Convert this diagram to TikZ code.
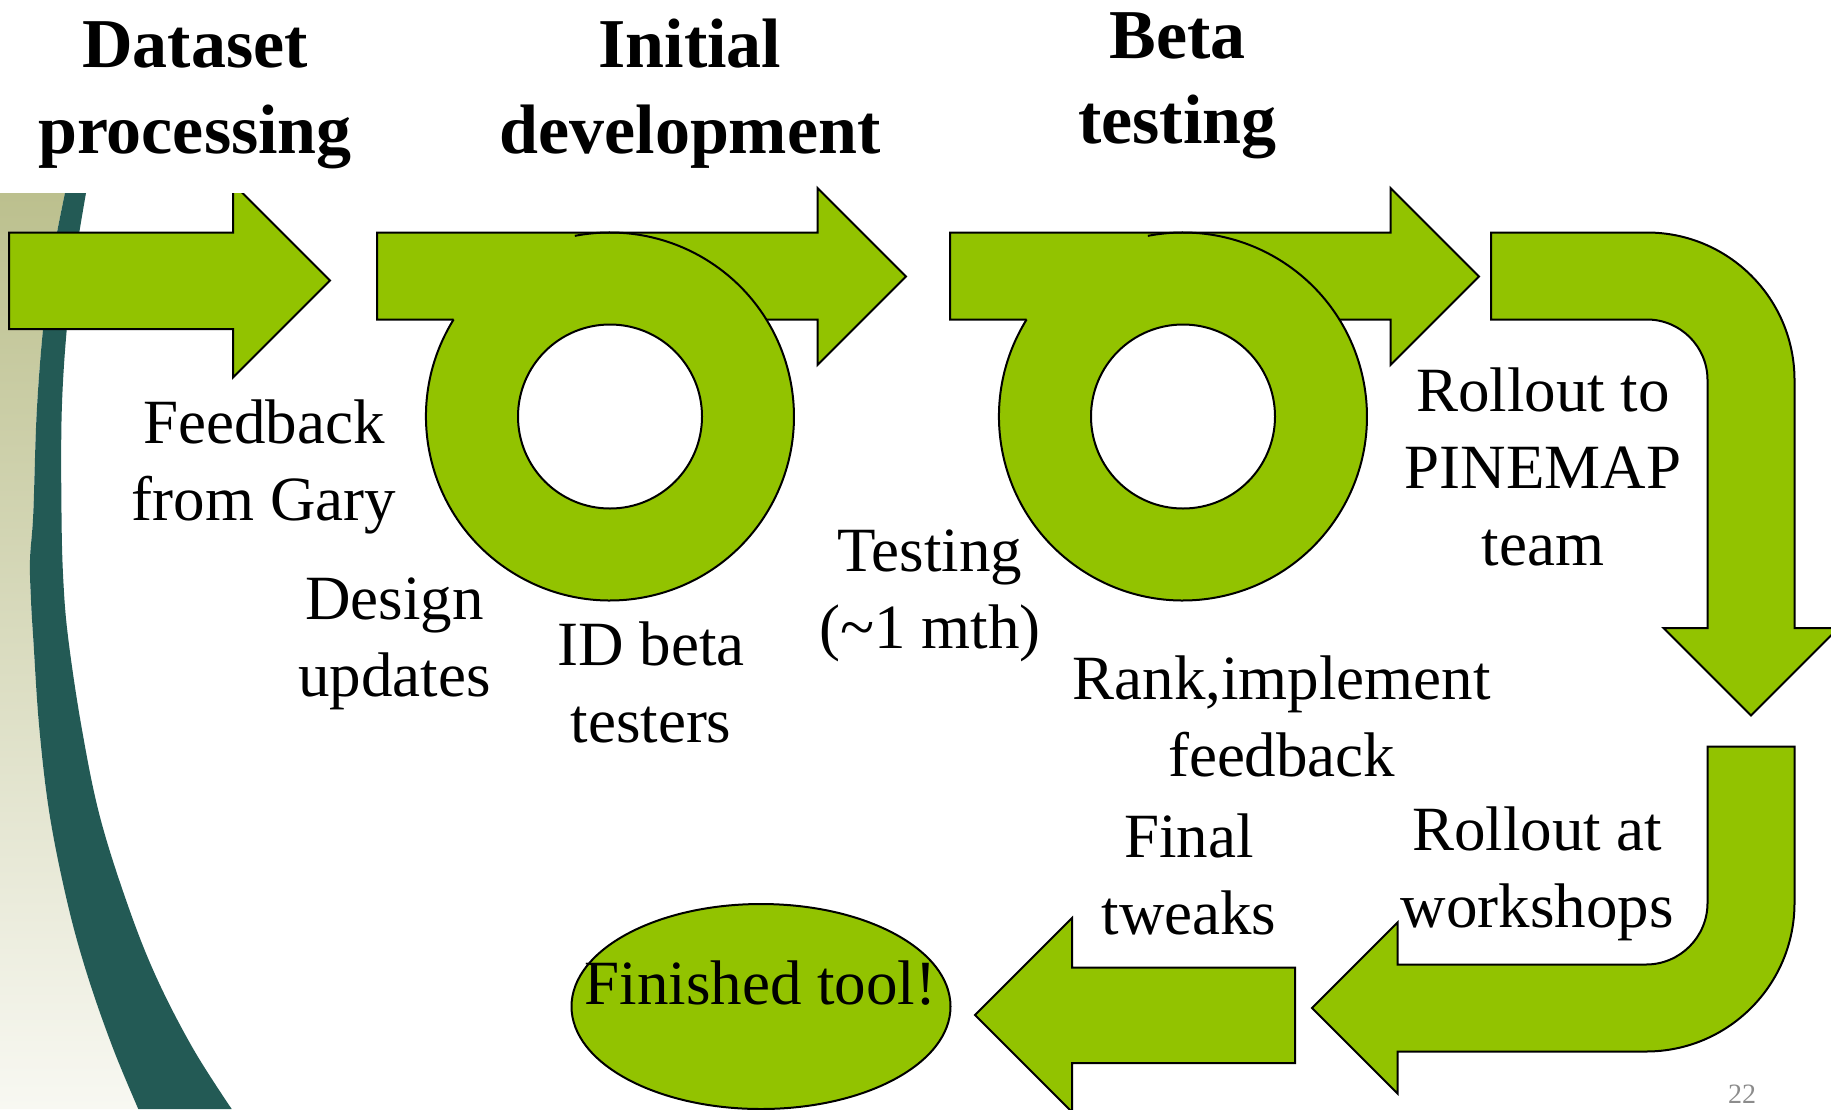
\documentclass[tikz,border=0pt]{standalone}
\usepackage{fontspec}
\setmainfont{Liberation Serif}
\definecolor{leaf}{HTML}{92C300}
\definecolor{bandteal}{HTML}{235A55}
\definecolor{oliveTop}{HTML}{BCC08E}
\definecolor{oliveBottom}{HTML}{F8F8F2}
\definecolor{pagegray}{HTML}{8C8C8C}
\tikzset{
  blockfill/.style={fill=leaf},
  outline/.style={draw=black, line width=1pt, line join=miter},
  % multi-line nodes: the base anchor sits on the last line
  lbl/.style={font=\fontsize{31.5}{38.5}\selectfont, align=center, anchor=base, inner sep=0pt},
  head/.style={font=\bfseries\fontsize{35}{43}\selectfont, align=center, anchor=base, inner sep=0pt},
}
% one arrow with a ring loop underneath it
\newcommand{\loopedarrow}{%
  \fill[blockfill] (377,232.5) -- (817.5,232.5) -- (817.5,188) -- (906,276.5)
    -- (817.5,365) -- (817.5,319.5) -- (377,319.5) -- cycle;
  \fill[blockfill, even odd rule] (610,416.5) circle[radius=184] (610,416.5) circle[radius=92];
  \draw[outline] (453.6,319.5) -- (377,319.5) -- (377,232.5) -- (817.5,232.5)
    -- (817.5,188) -- (906,276.5) -- (817.5,365) -- (817.5,319.5) -- (766.4,319.5);
  \draw[outline] (453.6,319.5) arc[start angle=211.81, end angle=-101, radius=184];
  \draw[outline] (610,416.5) circle[radius=92];
}
\begin{document}
\begin{tikzpicture}[x=0.5pt, y=-0.5pt]
\useasboundingbox (0,0) rectangle (1831,1109);
\clip (0,0) rectangle (1831,1109);
\fill[white] (0,0) rectangle (1831,1109);

% left-hand slide decoration
\shade[top color=oliveTop, bottom color=oliveBottom]
  (0,193) -- plot[smooth, tension=0.6] coordinates {(65,193) (52,260) (43.3,326.7) (36.7,413) (33.3,513) (30,560) (31,600) (33.3,639) (39.3,728) (50,817) (68.3,906.5) (88.3,978) (113.3,1049) (138.3,1109)}
  -- (0,1109) -- cycle;
\fill[bandteal]
  plot[smooth, tension=0.6] coordinates {(65,193) (52,260) (43.3,326.7) (36.7,413) (33.3,513) (30,560) (31,600) (33.3,639) (39.3,728) (50,817) (68.3,906.5) (88.3,978) (113.3,1049) (138.3,1109)}
  -- plot[smooth, tension=0.6] coordinates {(231.7,1109) (193.3,1049) (156.7,978) (128.3,906.5) (100,817) (81.7,728) (68.3,639) (63.3,580) (61.5,513) (61.7,413) (66.7,330) (75,260) (86,193)}
  -- cycle;

% first arrow, cut off by the title area
\begin{scope}
  \clip (0,193) rectangle (1831,1109);
  \filldraw[blockfill, outline] (9,232.5) -- (233,232.5) -- (233,183.5) -- (330,280.5)
    -- (233,377.5) -- (233,329) -- (9,329) -- cycle;
\end{scope}

% the two looped arrows
\loopedarrow
\begin{scope}[shift={(573,0)}]
  \loopedarrow
\end{scope}

% bent arrow turning down
\filldraw[blockfill, outline] (1491,232.5) -- (1647,232.5)
  arc[start angle=-90, end angle=0, radius=147.5]
  -- (1794.5,628) -- (1838.5,628) -- (1751,715.5) -- (1663.5,628) -- (1707.5,628)
  -- (1707.5,380) arc[start angle=0, end angle=-90, radius=60.5]
  -- (1491,319.5) -- cycle;

% bent arrow turning left
\filldraw[blockfill, outline] (1707.5,746.5) -- (1794.5,746.5) -- (1794.5,903)
  arc[start angle=0, end angle=90, radius=148.5]
  -- (1397.5,1051.5) -- (1397.5,1093.5) -- (1312,1008) -- (1397.5,922.5) -- (1397.5,964.5)
  -- (1646,964.5) arc[start angle=90, end angle=0, radius=61.5] -- cycle;

% last straight arrow
\filldraw[blockfill, outline] (1295,967.5) -- (1072,967.5) -- (1072,918) -- (975,1015)
  -- (1072,1112) -- (1072,1063) -- (1295,1063) -- cycle;

% goal ellipse
\filldraw[blockfill, outline] (761,1006.5) ellipse[x radius=189.5, y radius=102.5];

% phase headings
\node[head] (h-dataset) at (195,153) {Dataset\\processing};
\node[head] (h-initial) at (690,153) {Initial\\development};
\node[head, font=\bfseries\fontsize{35}{42.5}\selectfont] (h-beta) at (1177.5,143) {Beta\\testing};

% step labels
\node[lbl] (t-feedback) at (264,520) {Feedback\\from Gary};
\node[lbl] (t-design) at (394.5,696) {Design\\updates};
\node[lbl] (t-idbeta) at (651,742) {ID beta\\testers};
\node[lbl] (t-testing) at (930,648) {Testing\\(\textasciitilde1 mth)};
\node[lbl] (t-pinemap) at (1543,565) {Rollout to\\PINEMAP\\team};
\node[lbl] (t-rank) at (1281.7,776) {Rank,implement\\feedback};
\node[lbl] (t-final) at (1189,934) {Final\\tweaks};
\node[lbl] (t-workshops) at (1537.3,927) {Rollout at\\workshops};
\node[lbl] (t-finished) at (760.4,1004) {Finished tool!};

\node[font=\fontsize{14}{16}\selectfont, text=pagegray, anchor=base, inner sep=0pt] (pagenum) at (1742,1103) {22};
\end{tikzpicture}
\end{document}
